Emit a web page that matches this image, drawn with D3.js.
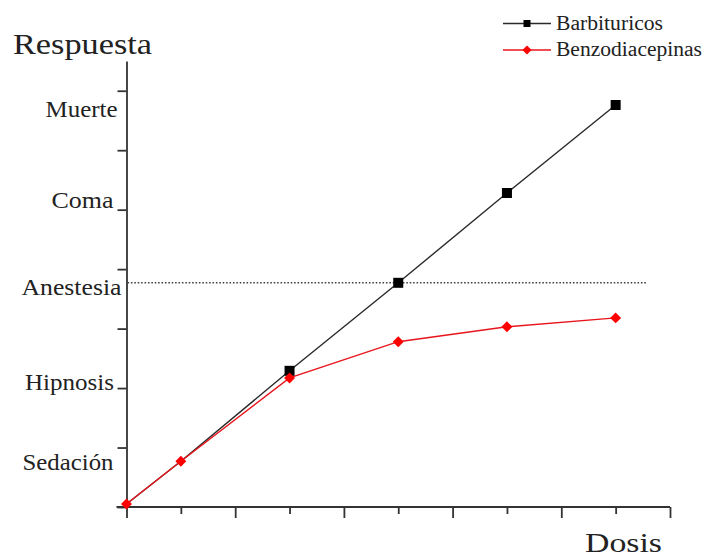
<!DOCTYPE html>
<html>
<head>
<meta charset="utf-8">
<script src="https://cdn.jsdelivr.net/npm/d3@7"></script>
<style>
  html, body { margin: 0; padding: 0; background: #fff; }
  svg { display: block; }
  text { font-family: "Liberation Serif", "DejaVu Serif", serif; fill: #222; }
</style>
</head>
<body>
<svg id="chart" width="704" height="559"></svg>
<script>
// ---------- data ----------
const seriesNames = ["Barbituricos", "Benzodiacepinas"];
const doses = [0, 1, 3, 5, 7, 9];
const barbituricos = [0.05, 0.77, 2.29, 3.77, 5.28, 6.76];
const benzodiacepinas = [0.05, 0.77, 2.17, 2.78, 3.03, 3.18];
const responseLabels = ["Sedación", "Hipnosis", "Anestesia", "Coma", "Muerte"];
const responseLevels = [0.75, 2.1, 3.7, 5.16, 6.69];
const anesthesiaThreshold = 3.77;
const thresholdEnd = 9.58;
const xTickValues = d3.range(0, 11);
const yTickValues = d3.range(0, 8);
const axisTitles = { y: "Respuesta", x: "Dosis" };

// ---------- layout ----------
const svg = d3.select("#chart");
const x = d3.scaleLinear().domain([0, 10]).range([126.5, 670]);
const y = d3.scaleLinear().domain([0, 7.5]).range([507, 61]);
const axisColor = "#333";

// y axis
const gy = svg.append("g").attr("transform", `translate(${x(0)},0)`)
  .call(d3.axisLeft(y).tickValues(yTickValues).tickSize(9).tickSizeOuter(0).tickFormat(""));
gy.selectAll("path.domain, line").attr("stroke", axisColor).attr("stroke-width", 1.8);

// x axis: major and minor ticks
const gxMajor = svg.append("g").attr("transform", `translate(0,${y(0)})`)
  .call(d3.axisBottom(x).tickValues(xTickValues.filter(d => d % 2 === 0)).tickSize(11).tickSizeOuter(0).tickFormat(""));
gxMajor.select("path.domain").remove();
gxMajor.selectAll("line").attr("stroke", axisColor).attr("stroke-width", 1.8);
const gxMinor = svg.append("g").attr("transform", `translate(0,${y(0)})`)
  .call(d3.axisBottom(x).tickValues(xTickValues.filter(d => d % 2 === 1)).tickSize(7).tickSizeOuter(0).tickFormat(""));
gxMinor.select("path.domain").remove();
gxMinor.selectAll("line").attr("stroke", axisColor).attr("stroke-width", 1.8);
svg.append("line")
  .attr("x1", x(0) - 10).attr("x2", x(10))
  .attr("y1", y(0)).attr("y2", y(0))
  .attr("stroke", axisColor).attr("stroke-width", 1.8);

// response labels
const labelWidths = { "Sedación": 91, "Hipnosis": 89, "Anestesia": 100, "Coma": 62, "Muerte": 72 };
const labelRight = { "Sedación": 113.5, "Hipnosis": 114, "Anestesia": 121.5, "Coma": 113.5, "Muerte": 117.5 };
svg.append("g").selectAll("text")
  .data(responseLabels.map((l, i) => ({ label: l, v: responseLevels[i] })))
  .join("text")
  .attr("x", d => labelRight[d.label] - labelWidths[d.label])
  .attr("y", d => y(d.v) + 8)
  .attr("font-size", 23)
  .attr("textLength", d => labelWidths[d.label])
  .attr("lengthAdjust", "spacingAndGlyphs")
  .text(d => d.label);

// axis titles
svg.append("text").attr("x", 13).attr("y", 53.5).attr("font-size", 30)
  .attr("textLength", 139).attr("lengthAdjust", "spacingAndGlyphs").text(axisTitles.y);
svg.append("text").attr("x", 585).attr("y", 552).attr("font-size", 28)
  .attr("textLength", 77).attr("lengthAdjust", "spacingAndGlyphs").text(axisTitles.x);

// anesthesia threshold dotted line
svg.append("line")
  .attr("x1", x(0) + 1).attr("x2", x(thresholdEnd))
  .attr("y1", y(anesthesiaThreshold)).attr("y2", y(anesthesiaThreshold))
  .attr("stroke", "#444").attr("stroke-width", 1.6)
  .attr("stroke-dasharray", "1.6,1.8");

// lines
const line = d3.line().x(d => x(d[0])).y(d => y(d[1]));
const blackPts = doses.map((d, i) => [d, barbituricos[i]]);
const redPts = doses.map((d, i) => [d, benzodiacepinas[i]]);
svg.append("path").datum(blackPts).attr("d", line)
  .attr("fill", "none").attr("stroke", "#2a2a2a").attr("stroke-width", 1.4);
svg.append("path").datum(redPts).attr("d", line)
  .attr("fill", "none").attr("stroke", "#e8141b").attr("stroke-width", 1.4);

// markers
const sq = d3.symbol(d3.symbolSquare, 100);
const dia = d3.symbol(d3.symbolSquare, 60);
svg.append("g").selectAll("path").data(blackPts.slice(2)).join("path")
  .attr("d", sq).attr("fill", "#000")
  .attr("transform", d => `translate(${x(d[0])},${y(d[1])})`);
svg.append("g").selectAll("path").data(redPts).join("path")
  .attr("d", dia).attr("fill", "#f00")
  .attr("transform", d => `translate(${x(d[0])},${y(d[1])}) rotate(45)`);

// legend
const legend = svg.append("g");
const legendRows = [
  { name: seriesNames[0], color: "#2a2a2a", fill: "#000", sym: d3.symbol(d3.symbolSquare, 49), rot: 0, ly: 23.5, ty: 29.5, w: 107 },
  { name: seriesNames[1], color: "#e8141b", fill: "#f00", sym: d3.symbol(d3.symbolSquare, 42), rot: 45, ly: 50, ty: 55.5, w: 146 }
];
legendRows.forEach(r => {
  legend.append("line").attr("x1", 503).attr("x2", 551).attr("y1", r.ly).attr("y2", r.ly)
    .attr("stroke", r.color).attr("stroke-width", 1.6);
  legend.append("path").attr("d", r.sym).attr("fill", r.fill)
    .attr("transform", `translate(527,${r.ly}) rotate(${r.rot})`);
  legend.append("text").attr("x", 556).attr("y", r.ty).attr("font-size", 20)
    .attr("textLength", r.w).attr("lengthAdjust", "spacingAndGlyphs").text(r.name);
});
</script>
</body>
</html>
